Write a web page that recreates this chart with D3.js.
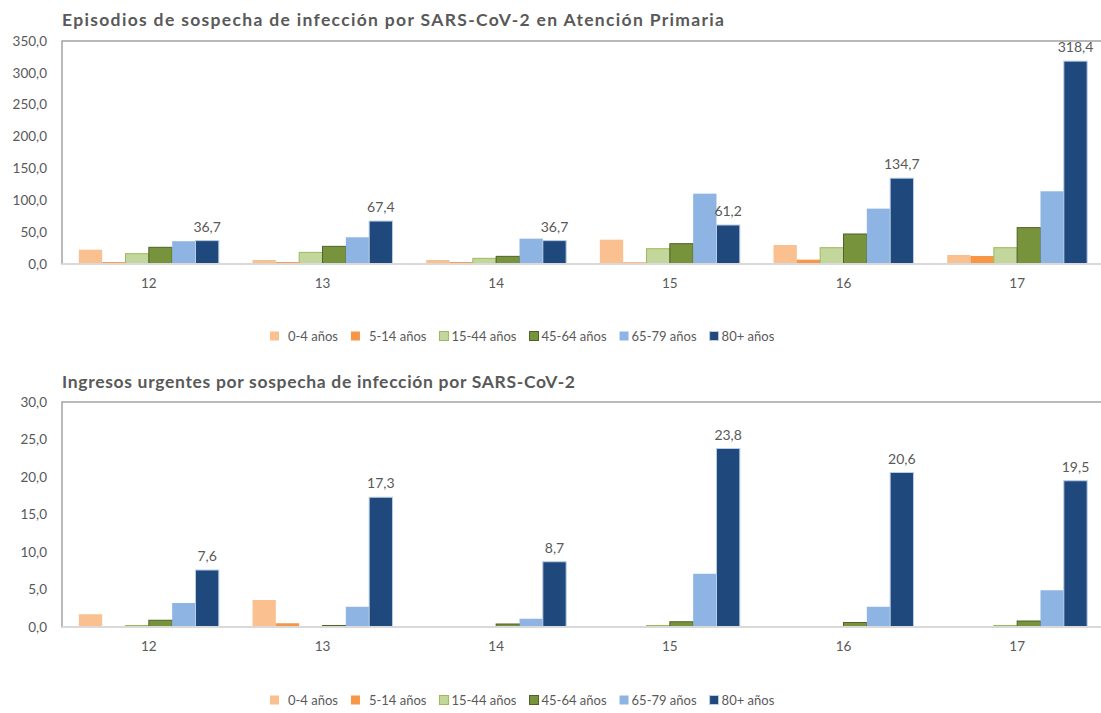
<!DOCTYPE html>
<html>
<head>
<meta charset="utf-8">
<script src="https://cdn.jsdelivr.net/npm/d3@7"></script>
<style>
  body { margin: 0; background: #fff; }
  text { font-family: Lato, "Liberation Sans", sans-serif; fill: #595959; }
</style>
</head>
<body>
<div class="container"></div>
<script>
// weeks and age groups
const weeks = ["12", "13", "14", "15", "16", "17"];
const ageGroups = ["0-4 años", "5-14 años", "15-44 años", "45-64 años", "65-79 años", "80+ años"];
const fillColors = ["#FAC090", "#F79646", "#C3D69B", "#77933C", "#8EB4E3", "#1F497D"];
const strokeColors = ["none", "none", "#9BBB59", "#4F6228", "none", "#B9CDE5"];

// Episodios de sospecha (AP)
const epi_0_4 = [22.5, 6.3, 6.3, 38.2, 29.8, 14.1];
const epi_5_14 = [3.0, 3.0, 3.0, 2.6, 6.8, 12.6];
const epi_15_44 = [16.2, 18.3, 8.9, 24.0, 25.6, 25.6];
const epi_45_64 = [26.2, 27.7, 12.0, 31.9, 47.1, 57.1];
const epi_65_79 = [35.8, 41.9, 39.8, 110.4, 86.9, 114.1];
const epi_80 = [36.7, 67.4, 36.7, 61.2, 134.7, 318.4];

// Ingresos urgentes
const ing_0_4 = [1.7, 3.6, 0, 0, 0, 0];
const ing_5_14 = [0, 0.5, 0, 0, 0, 0];
const ing_15_44 = [0.2, 0, 0, 0.2, 0, 0.2];
const ing_45_64 = [0.9, 0.2, 0.4, 0.7, 0.6, 0.8];
const ing_65_79 = [3.2, 2.7, 1.1, 7.1, 2.7, 4.9];
const ing_80 = [7.6, 17.3, 8.7, 23.8, 20.6, 19.5];

const locale = d3.formatLocale({ decimal: ",", thousands: ".", grouping: [3], currency: ["", "€"] });
const fmt = locale.format(".1f");

const svg = d3.select(".container").append("svg")
  .attr("width", 1101)
  .attr("height", 713);

function drawChart(opt) {
  const g = svg.append("g");
  const left = 62, right = 1104;

  // title
  g.append("text")
    .attr("x", left)
    .attr("y", opt.titleY)
    .attr("font-size", 17.5)
    .attr("font-weight", "bold")
    .attr("textLength", opt.titleWidth)
    .attr("lengthAdjust", "spacing")
    .text(opt.title);

  const x = d3.scaleBand().domain(weeks).range([left, right])
    .paddingInner(0.194).paddingOuter(0.097);
  const xs = d3.scaleBand().domain(ageGroups).range([0, x.bandwidth()]);
  const y = d3.scaleLinear().domain([0, opt.yMax]).range([opt.bottom, opt.top]);

  // plot frame
  g.append("rect")
    .attr("x", left).attr("y", opt.top)
    .attr("width", right - left).attr("height", opt.bottom - opt.top)
    .attr("fill", "none").attr("stroke", "#8C8C8C").attr("stroke-width", 1.2);

  // y tick labels
  const ticks = d3.range(0, opt.yMax + 0.001, opt.step);
  g.selectAll(".ylab").data(ticks).join("text")
    .attr("x", 47)
    .attr("y", d => y(d))
    .attr("dy", "0.35em")
    .attr("text-anchor", "end")
    .attr("font-size", 13.5)
    .text(d => fmt(d));

  // bars
  const rows = weeks.map((w, i) => ({ week: w, values: opt.series.map(s => s[i]) }));
  const groups = g.selectAll(".grp").data(rows).join("g")
    .attr("transform", d => `translate(${x(d.week)},0)`);
  groups.selectAll("rect").data(d => d.values.map((v, k) => ({ v: v, k: k })))
    .join("rect")
    .filter(d => d.v > 0)
    .attr("x", d => xs(ageGroups[d.k]))
    .attr("y", d => y(d.v))
    .attr("width", xs.bandwidth())
    .attr("height", d => y(0) - y(d.v))
    .attr("fill", d => fillColors[d.k])
    .attr("stroke", d => strokeColors[d.k])
    .attr("stroke-width", 1);

  // value labels on 80+
  groups.append("text")
    .attr("x", d => xs(ageGroups[5]) + xs.bandwidth() / 2)
    .attr("y", d => y(d.values[5]) - 9)
    .attr("text-anchor", "middle")
    .attr("font-size", 14)
    .attr("fill", "#404040")
    .text(d => fmt(d.values[5]));

  // zero axis line
  g.append("line")
    .attr("x1", left).attr("x2", right)
    .attr("y1", y(0)).attr("y2", y(0))
    .attr("stroke", "#D9D9D9").attr("stroke-width", 2);

  // x labels
  g.selectAll(".xlab").data(weeks).join("text")
    .attr("x", d => x(d) + x.bandwidth() / 2)
    .attr("y", y(0) + 24)
    .attr("text-anchor", "middle")
    .attr("font-size", 13.5)
    .text(d => d);

  // legend
  const leg = g.append("g").attr("transform", `translate(270,${opt.legendY})`);
  let lx = 0;
  ageGroups.forEach((a, k) => {
    const pad = k >= 2 ? 12 : 18;
    leg.append("rect")
      .attr("x", lx).attr("y", -4.5)
      .attr("width", 9).attr("height", 9)
      .attr("fill", fillColors[k])
      .attr("stroke", strokeColors[k]);
    const t = leg.append("text")
      .attr("x", lx + pad)
      .attr("y", 0).attr("dy", "0.35em")
      .attr("font-size", 13)
      .text(a);
    lx = lx + pad + t.node().getComputedTextLength() + 13;
  });
}

drawChart({
  title: "Episodios de sospecha de infección por SARS-CoV-2 en Atención Primaria",
  titleY: 26, titleWidth: 662,
  top: 41, bottom: 264, yMax: 350, step: 50,
  legendY: 336,
  series: [epi_0_4, epi_5_14, epi_15_44, epi_45_64, epi_65_79, epi_80]
});

drawChart({
  title: "Ingresos urgentes por sospecha de infección por SARS-CoV-2",
  titleY: 388, titleWidth: 513,
  top: 402, bottom: 627, yMax: 30, step: 5,
  legendY: 700,
  series: [ing_0_4, ing_5_14, ing_15_44, ing_45_64, ing_65_79, ing_80]
});
</script>
</body>
</html>
